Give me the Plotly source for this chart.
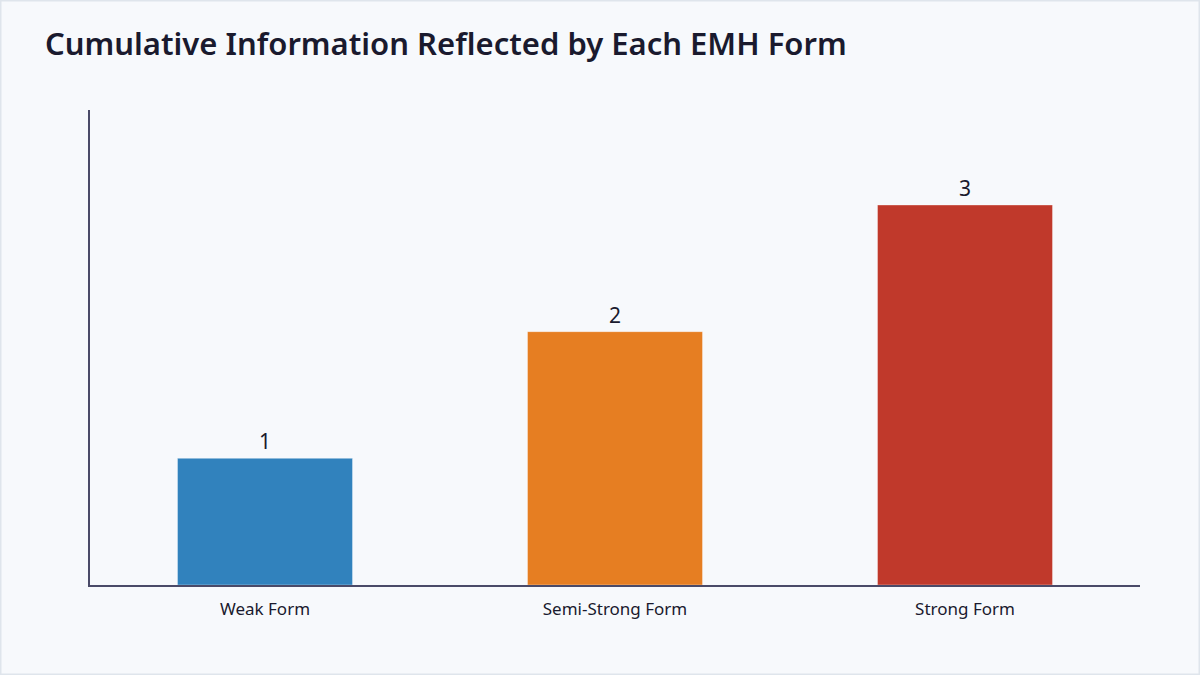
import plotly.graph_objects as go

# Данные
forms = ["Weak Form", "Semi-Strong Form", "Strong Form"]
info_levels = [1, 2, 3]
bar_colors = ["#3182bd", "#e67e22", "#c0392b"]

FONT = "Noto Sans"

fig = go.Figure()
fig.add_trace(go.Bar(
    x=forms, y=info_levels,
    marker=dict(color=bar_colors, line=dict(color="rgba(255,255,255,0.35)", width=1)),
    text=info_levels, textposition="outside",
    textfont=dict(size=21, color="#1a1a2e", family=FONT),
    cliponaxis=False, width=0.5,
))

# рамка вокруг всей картинки
fig.add_shape(type="rect", xref="paper", yref="paper",
              x0=-90 / 1050, x1=1110 / 1050, y0=-90 / 475, y1=585 / 475,
              line=dict(color="#dfe5ec", width=3), layer="below")

fig.update_layout(
    width=1200, height=675,
    margin=dict(l=90, r=60, t=110, b=90),
    paper_bgcolor="#f7f9fc", plot_bgcolor="#f7f9fc",
    font=dict(family=FONT, color="#1a1a2e"),
    title=dict(text="Cumulative Information Reflected by Each EMH Form",
               x=45 / 1200, xanchor="left", y=1 - 44 / 675, yanchor="middle",
               font=dict(size=31, color="#1a1a2e", weight=600)),
    showlegend=False,
    bargap=0.5,
)
fig.update_xaxes(showline=True, linecolor="#4a4a68", linewidth=2,
                 showgrid=False, ticks="", ticklabelstandoff=8,
                 tickfont=dict(size=17, color="#1a1a2e"))
fig.update_yaxes(range=[0, 3.75], showline=True, linecolor="#4a4a68", linewidth=2,
                 showgrid=False, zeroline=False, showticklabels=False, ticks="")

# убираем отступ страницы, чтобы картинка начиналась с (0, 0)
fig.write_html("out.html", config={"displayModeBar": False},
               post_script="document.body.style.margin='0';")
